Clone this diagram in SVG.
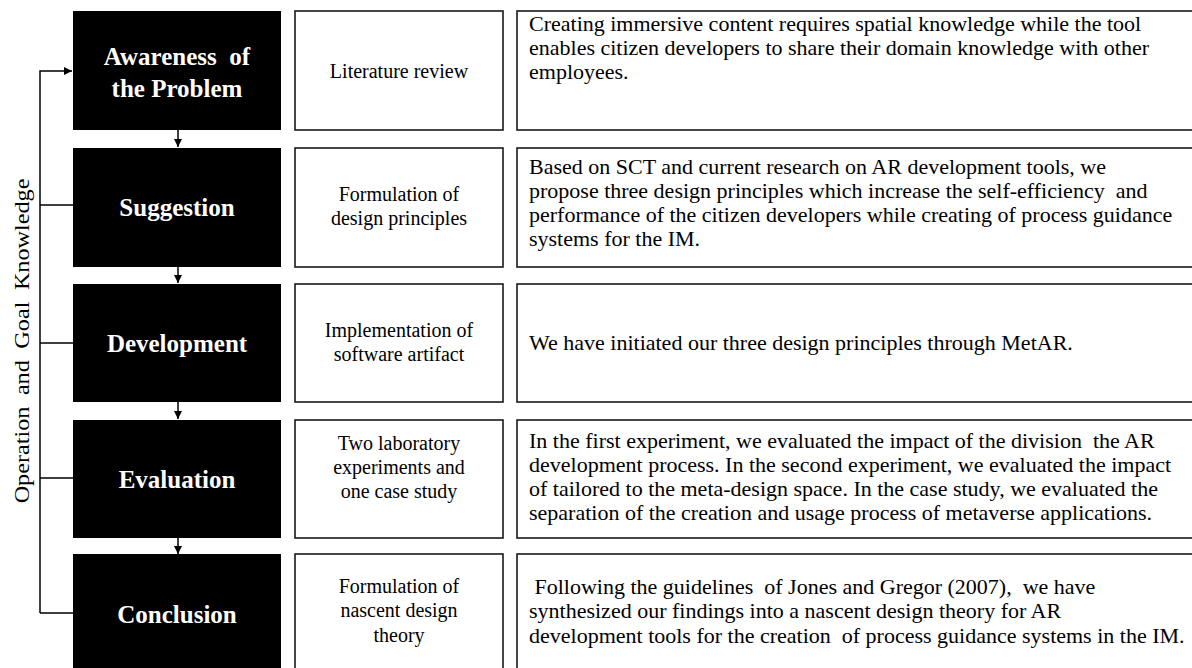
<svg xmlns="http://www.w3.org/2000/svg" width="1192" height="668" viewBox="0 0 1192 668">
  <style>
    .phase { fill: #000; }
    .phase-label { fill: #fff; font-family: "Liberation Serif", serif; font-weight: bold; font-size: 25px; text-anchor: middle; }
    .box { fill: #fff; stroke: #1a1a1a; stroke-width: 1.6; }
    .mid { fill: #000; font-family: "Liberation Serif", serif; font-size: 20px; text-anchor: middle; }
    .desc { fill: #000; font-family: "Liberation Serif", serif; font-size: 22px; }
    .side { fill: #000; font-family: "Liberation Serif", serif; font-size: 22px; text-anchor: middle; word-spacing: 5px; }
    .wire { fill: none; stroke: #000; stroke-width: 1.5; }
  </style>
  <defs>
    <marker id="head" viewBox="0 0 10 10" refX="10" refY="5" markerWidth="8" markerHeight="8" markerUnits="userSpaceOnUse" orient="auto">
      <path d="M0,0 L10,5 L0,10 Z" fill="#000"/>
    </marker>
  </defs>
  <rect width="1192" height="668" fill="#fff"/>

  <!-- vertical side label -->
  <text class="side" transform="translate(29,341) rotate(-90) scale(1.1,1)">Operation and Goal Knowledge</text>

  <!-- connectors -->
  <g id="connectors">
    <path class="wire" d="M40,613 V71 H72" marker-end="url(#head)"/>
    <path class="wire" d="M40,205 H73 M40,343 H73 M40,478 H73 M40,613 H73"/>
    <path class="wire" d="M178,130 V147" marker-end="url(#head)"/>
    <path class="wire" d="M178,267 V283" marker-end="url(#head)"/>
    <path class="wire" d="M178,402 V419" marker-end="url(#head)"/>
    <path class="wire" d="M178,538 V554" marker-end="url(#head)"/>
  </g>

  <!-- phase 1 -->
  <g id="awareness">
    <rect class="phase" x="73" y="11" width="208" height="119"/>
    <text class="phase-label" x="177" y="65" xml:space="preserve">Awareness  of</text>
    <text class="phase-label" x="177" y="97">the Problem</text>
    <rect class="box" x="295" y="11" width="208" height="119"/>
    <text class="mid" x="399" y="78">Literature review</text>
    <rect class="box" x="517" y="11" width="690" height="119"/>
    <text class="desc" x="529" y="31">Creating immersive content requires spatial knowledge while the tool</text>
    <text class="desc" x="529" y="55">enables citizen developers to share their domain knowledge with other</text>
    <text class="desc" x="529" y="79">employees.</text>
  </g>

  <!-- phase 2 -->
  <g id="suggestion">
    <rect class="phase" x="73" y="148" width="208" height="119"/>
    <text class="phase-label" x="177" y="216">Suggestion</text>
    <rect class="box" x="295" y="148" width="208" height="119"/>
    <text class="mid" x="399" y="201">Formulation of</text>
    <text class="mid" x="399" y="225">design principles</text>
    <rect class="box" x="517" y="148" width="690" height="119"/>
    <text class="desc" x="529" y="174">Based on SCT and current research on AR development tools, we</text>
    <text class="desc" x="529" y="198" xml:space="preserve">propose three design principles which increase the self-efficiency  and</text>
    <text class="desc" x="529" y="222">performance of the citizen developers while creating of process guidance</text>
    <text class="desc" x="529" y="246">systems for the IM.</text>
  </g>

  <!-- phase 3 -->
  <g id="development">
    <rect class="phase" x="73" y="284" width="208" height="118"/>
    <text class="phase-label" x="177" y="352">Development</text>
    <rect class="box" x="295" y="284" width="208" height="118"/>
    <text class="mid" x="399" y="337">Implementation of</text>
    <text class="mid" x="399" y="361">software artifact</text>
    <rect class="box" x="517" y="284" width="690" height="118"/>
    <text class="desc" x="529" y="350">We have initiated our three design principles through MetAR.</text>
  </g>

  <!-- phase 4 -->
  <g id="evaluation">
    <rect class="phase" x="73" y="420" width="208" height="118"/>
    <text class="phase-label" x="177" y="488">Evaluation</text>
    <rect class="box" x="295" y="420" width="208" height="118"/>
    <text class="mid" x="399" y="450">Two laboratory</text>
    <text class="mid" x="399" y="474">experiments and</text>
    <text class="mid" x="399" y="498">one case study</text>
    <rect class="box" x="517" y="420" width="690" height="118"/>
    <text class="desc" x="529" y="448" xml:space="preserve">In the first experiment, we evaluated the impact of the division  the AR</text>
    <text class="desc" x="529" y="472">development process. In the second experiment, we evaluated the impact</text>
    <text class="desc" x="529" y="496">of tailored to the meta-design space. In the case study, we evaluated the</text>
    <text class="desc" x="529" y="520">separation of the creation and usage process of metaverse applications.</text>
  </g>

  <!-- phase 5 -->
  <g id="conclusion">
    <rect class="phase" x="73" y="554" width="208" height="120"/>
    <text class="phase-label" x="177" y="623">Conclusion</text>
    <rect class="box" x="295" y="554" width="208" height="120"/>
    <text class="mid" x="399" y="593">Formulation of</text>
    <text class="mid" x="399" y="617">nascent design</text>
    <text class="mid" x="399" y="642">theory</text>
    <rect class="box" x="517" y="554" width="690" height="120"/>
    <text class="desc" x="529" y="594" xml:space="preserve"> Following the guidelines  of Jones and Gregor (2007),  we have</text>
    <text class="desc" x="529" y="618">synthesized our findings into a nascent design theory for AR</text>
    <text class="desc" x="529" y="643" xml:space="preserve">development tools for the creation  of process guidance systems in the IM.</text>
  </g>
</svg>
